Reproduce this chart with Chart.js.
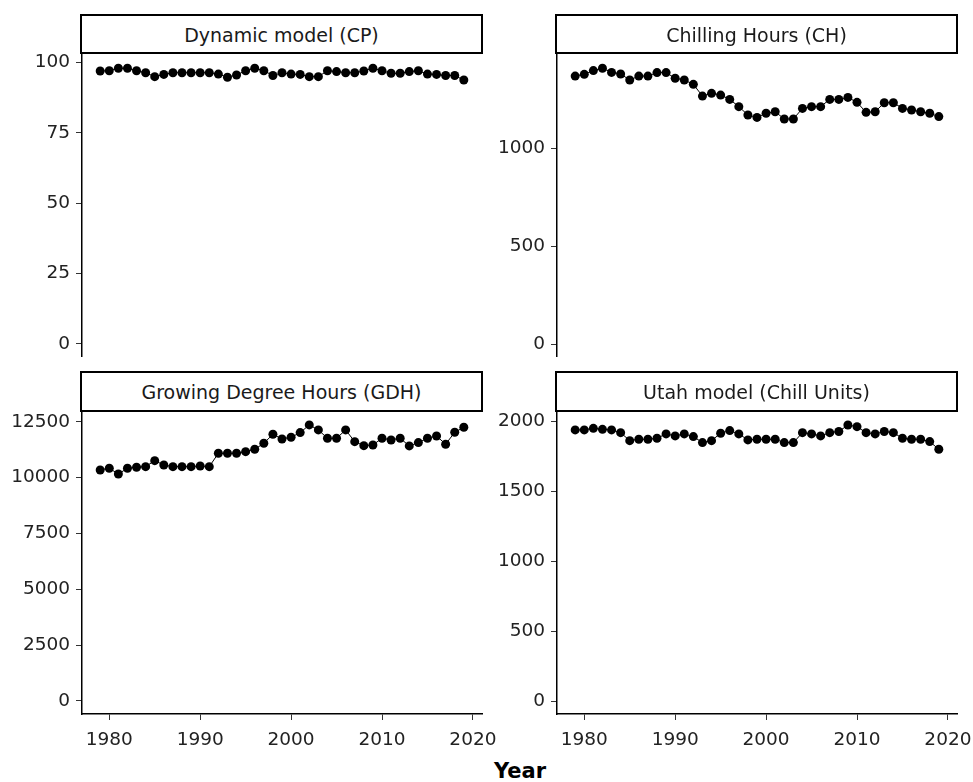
<!DOCTYPE html>
<html>
<head>
<meta charset="utf-8">
<script src="https://cdn.jsdelivr.net/npm/chart.js@4.4.0/dist/chart.umd.min.js"></script>
<style>
  html, body { margin: 0; padding: 0; background: #fff; overflow: hidden; }
  body { width: 973px; height: 782px; position: relative; font-family: 'DejaVu Sans', sans-serif; }
  canvas { position: absolute; }
  .strip { position: absolute; width: 403px; box-sizing: border-box; border: 2px solid #000; background: #fff; }
  .strip span { position: absolute; left: 0; right: 0; top: 9px; text-align: center; font-size: 19px; line-height: 21px; color: #1a1a1a; white-space: nowrap; }
  #yearLabel { position: absolute; left: 420px; width: 200px; top: 759px; text-align: center; font-weight: bold; font-size: 21px; line-height: 24px; color: #000; }
</style>
</head>
<body>
<canvas id="chartCP" width="496" height="327" style="left:2px;top:41px"></canvas>
<canvas id="chartCH" width="496" height="327" style="left:477px;top:41px"></canvas>
<canvas id="chartGDH" width="496" height="354" style="left:2px;top:400px"></canvas>
<canvas id="chartUtah" width="496" height="354" style="left:477px;top:400px"></canvas>

<div class="strip" style="left:80px;top:14px;height:40px"><span id="titleCP"></span></div>
<div class="strip" style="left:555px;top:14px;height:40px"><span id="titleCH"></span></div>
<div class="strip" style="left:80px;top:371px;height:41px"><span id="titleGDH"></span></div>
<div class="strip" style="left:555px;top:371px;height:41px"><span id="titleUtah"></span></div>
<div id="yearLabel">Year</div>

<script>
// data
const years = [1979, 1980, 1981, 1982, 1983, 1984, 1985, 1986, 1987, 1988, 1989,
    1990, 1991, 1992, 1993, 1994, 1995, 1996, 1997, 1998, 1999,
    2000, 2001, 2002, 2003, 2004, 2005, 2006, 2007, 2008, 2009,
    2010, 2011, 2012, 2013, 2014, 2015, 2016, 2017, 2018, 2019];

const cpValues = [96.9, 97.0, 97.9, 97.9, 97.0, 96.3, 94.9, 95.7, 96.3, 96.3, 96.3,
    96.3, 96.3, 95.8, 94.7, 95.5, 97.0, 97.9, 97.0, 95.3, 96.3,
    95.8, 95.7, 94.9, 94.9, 97.0, 96.7, 96.3, 96.3, 96.9, 97.9,
    97.0, 96.1, 96.1, 96.7, 97.0, 95.8, 95.7, 95.3, 95.3, 93.7];

const chValues = [1369, 1378, 1397, 1409, 1388, 1380, 1349, 1369, 1369, 1387, 1387,
    1358, 1349, 1327, 1267, 1281, 1272, 1250, 1213, 1170, 1158,
    1179, 1187, 1150, 1150, 1204, 1213, 1213, 1250, 1250, 1260,
    1235, 1184, 1187, 1233, 1233, 1204, 1196, 1187, 1179, 1162];

const gdhValues = [10340, 10415, 10161, 10415, 10460, 10489, 10757, 10564, 10489, 10489, 10489,
    10519, 10489, 11087, 11087, 11087, 11160, 11265, 11535, 11937, 11728,
    11803, 12012, 12355, 12131, 11758, 11758, 12131, 11608, 11429, 11459,
    11758, 11683, 11758, 11415, 11564, 11758, 11862, 11490, 12027, 12250];

const utahValues = [1941, 1941, 1952, 1945, 1941, 1921, 1864, 1874, 1874, 1881, 1912,
    1898, 1912, 1893, 1850, 1864, 1917, 1936, 1912, 1869, 1874,
    1874, 1874, 1850, 1850, 1921, 1912, 1898, 1921, 1929, 1976,
    1964, 1921, 1912, 1929, 1921, 1881, 1874, 1874, 1857, 1802];

const xTicks = [1980, 1990, 2000, 2010, 2020];
const cpTicks = [0, 25, 50, 75, 100];
const chTicks = [0, 500, 1000];
const gdhTicks = [0, 2500, 5000, 7500, 10000, 12500];
const utahTicks = [0, 500, 1000, 1500, 2000];

const titles = {
    CP: 'Dynamic model (CP)',
    CH: 'Chilling Hours (CH)',
    GDH: 'Growing Degree Hours (GDH)',
    Utah: 'Utah model (Chill Units)'
};

Chart.defaults.font.family = "'DejaVu Sans', sans-serif";

const tickFont = { size: 18.5 };

const makePanel = (key, values, yMin, yMax, yTicks, showX) => {
    document.getElementById('title' + key).textContent = titles[key];

    let points = years.map((yr, i) => ({ x: yr, y: values[i] }));

    new Chart(document.getElementById('chart' + key), {
        type: 'line',
        data: {
            datasets: [{
                data: points,
                borderColor: '#000',
                borderWidth: 1,
                pointRadius: 4.5,
                pointHoverRadius: 4.5,
                pointBackgroundColor: '#000',
                pointBorderWidth: 0,
                tension: 0
            }]
        },
        options: {
            responsive: false,
            animation: false,
            devicePixelRatio: 1,
            layout: { padding: { top: 12, right: 16, bottom: showX ? 0 : 12, left: 0 } },
            plugins: { legend: { display: false }, tooltip: { enabled: false } },
            scales: {
                x: {
                    type: 'linear',
                    display: showX,
                    min: 1977,
                    max: 2021,
                    afterBuildTicks: (s) => { s.ticks = xTicks.map(v => ({ value: v })) },
                    afterFit: (s) => {
                        // keep the plot width fixed, the 2020 label may hang into the padding
                        s.paddingLeft = 0;
                        s.paddingRight = 0;
                        s.height = showX ? 40 : 0;
                    },
                    grid: { drawOnChartArea: false, drawTicks: true, tickLength: 6, color: '#333' },
                    border: { display: true, color: '#000', width: 1.5 },
                    ticks: { autoSkip: false, maxRotation: 0, padding: 9, color: '#222', font: tickFont,
                        callback: (v) => String(v) }
                },
                y: {
                    min: yMin,
                    max: yMax,
                    afterBuildTicks: (s) => { s.ticks = yTicks.map(v => ({ value: v })) },
                    afterFit: (s) => {
                        s.width = 80;
                        s.paddingTop = 0;
                        s.paddingBottom = 0;
                    },
                    grid: { drawOnChartArea: false, drawTicks: true, tickLength: 6, color: '#333' },
                    border: { display: true, color: '#000', width: 1.5 },
                    ticks: { autoSkip: false, padding: 6, color: '#222', font: tickFont,
                        callback: (v) => String(v) }
                }
            }
        }
    });
}

makePanel('CP', cpValues, -4.3, 103.3, cpTicks, false);
makePanel('CH', chValues, -61, 1487, chTicks, false);
makePanel('GDH', gdhValues, -582, 12934, gdhTicks, true);
makePanel('Utah', utahValues, -93, 2069, utahTicks, true);
</script>
</body>
</html>
